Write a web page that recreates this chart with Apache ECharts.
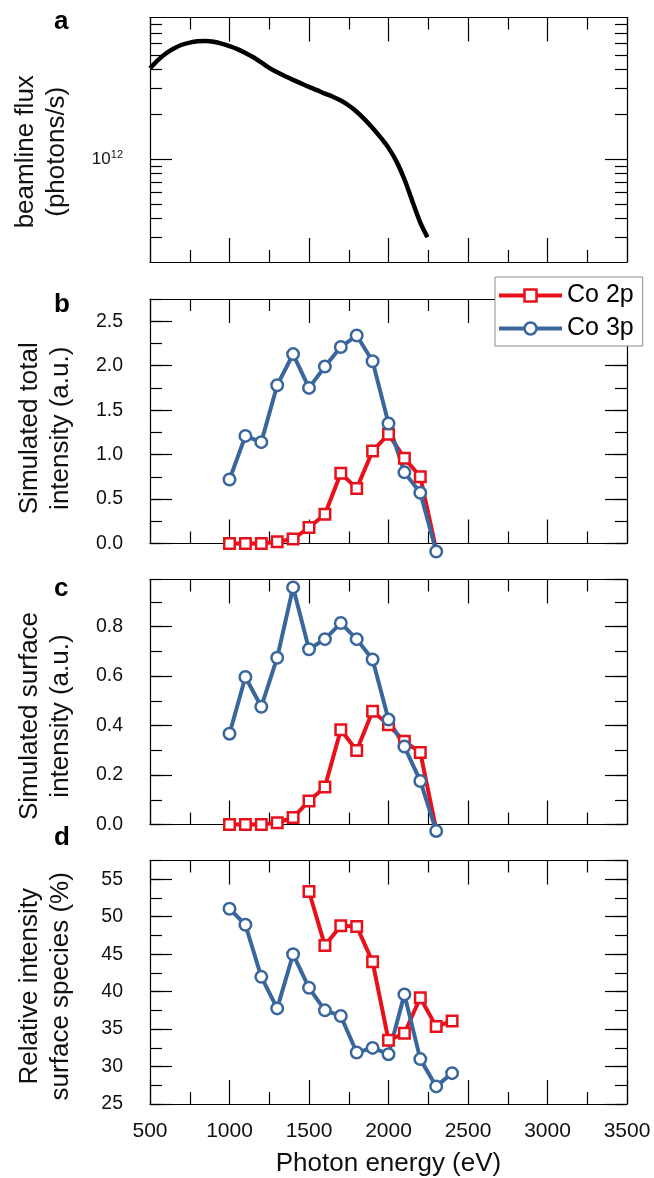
<!DOCTYPE html>
<html><head><meta charset="utf-8">
<script src="https://cdn.jsdelivr.net/npm/echarts@6/dist/echarts.min.js"></script>
<style>html,body{margin:0;padding:0;background:#fff}#c{width:654px;height:1178px}</style>
</head><body><div id="c"></div>
<script>
// ---------- data ----------
const fluxEnergy = [500,550,600,650,700,750,800,850,900,950,1000,1050,1100,1150,1200,1250,1300,1350,1400,1450,1500,1550,1600,1650,1700,1750,1800,1850,1900,1950,2000,2050,2100,2150,2200,2245];
const fluxValues = [4.07e12,4.62e12,5.11e12,5.52e12,5.85e12,6.05e12,6.17e12,6.19e12,6.12e12,5.96e12,5.73e12,5.47e12,5.16e12,4.82e12,4.45e12,4.09e12,3.82e12,3.60e12,3.40e12,3.22e12,3.05e12,2.90e12,2.75e12,2.62e12,2.47e12,2.29e12,2.08e12,1.85e12,1.62e12,1.40e12,1.19e12,9.66e11,7.33e11,5.22e11,3.75e11,2.99e11];
const fluxMajorTicks = [1e12];
const fluxMinorTicks = [3e11,4e11,5e11,6e11,7e11,8e11,9e11,2e12,3e12,4e12,5e12,6e12,7e12,8e12];

const simEnergy = [1000,1100,1200,1300,1400,1500,1600,1700,1800,1900,2000,2100,2200,2300];
const totalCo2p = [0.0,0.0,0.0,0.02,0.05,0.18,0.33,0.79,0.62,1.04,1.23,0.96,0.75,-0.07];
const totalCo3p = [0.72,1.21,1.14,1.78,2.13,1.75,1.99,2.21,2.34,2.05,1.35,0.80,0.57,-0.09];
const surfCo2p = [0.0,0.0,0.0,0.007,0.028,0.095,0.152,0.383,0.299,0.458,0.403,0.336,0.291,-0.02];
const surfCo3p = [0.367,0.596,0.476,0.674,0.958,0.708,0.749,0.814,0.749,0.667,0.424,0.315,0.176,-0.026];

const relEnergyCo3p = [1000,1100,1200,1300,1400,1500,1600,1700,1800,1900,2000,2100,2200,2300,2400];
const relCo3p = [51.06,48.93,41.97,37.76,44.99,40.51,37.5,36.75,31.87,32.49,31.65,39.63,30.99,27.35,29.12];
const relEnergyCo2p = [1500,1600,1700,1800,1900,2000,2100,2200,2300,2400];
const relCo2p = [53.36,46.14,48.8,48.7,43.97,33.51,34.44,39.18,35.33,36.08];

const xTickLabels = [500,1000,1500,2000,2500,3000,3500];
const seriesNames = ['Co 2p','Co 3p'];
const panelLetters = ['a','b','c','d'];
const yTitles = ['beamline flux\n(photons/s)','Simulated total\nintensity (a.u.)','Simulated surface\nintensity (a.u.)','Relative intensity\nsurface species (%)'];
const xTitle = 'Photon energy (eV)';

// ---------- style ----------
const FONT = '"Liberation Sans", Arial, sans-serif';
const RED = '#e8101a', BLUE = '#3a679b', INK = '#000';
const line = {color: INK, width: 1.2};
const grids = [
  {left:150, right:27, top:17.5, height:244.5},
  {left:150, right:27, top:299, height:244.5},
  {left:150, right:27, top:579.5, height:245},
  {left:150, right:27, top:860.5, height:244}
];
const letterTops = [9, 292, 576, 825];
const titleGaps = [78, 74, 74, 74];
const titleShift = [24, 14, 28, 8];

function xAx(gi, pos, showLabel) {
  return {
    gridIndex: gi, type: 'value', position: pos, min: xTickLabels[0], max: xTickLabels[xTickLabels.length-1], interval: 500,
    axisLine: {show: true, onZero: false, lineStyle: line},
    axisTick: {show: true, inside: true, length: 24, lineStyle: line},
    minorTick: {show: true, splitNumber: 2, length: 12, lineStyle: line},
    splitLine: {show: false}, minorSplitLine: {show: false},
    axisLabel: {show: showLabel, margin: 17, fontSize: 21, color: '#111', fontFamily: FONT, formatter: v => String(v)},
    name: showLabel ? xTitle : '', nameLocation: 'middle', nameGap: 47,
    nameTextStyle: {fontSize: 26, color: '#111', fontFamily: FONT}
  };
}
function yAx(gi, pos, o) {
  const isLabelAxis = pos === 'left' && o.major;
  const a = {
    gridIndex: gi, type: 'value', position: pos, min: o.min, max: o.max,
    axisLine: {show: o.major, onZero: false, lineStyle: line},
    axisTick: {show: true, inside: true, length: o.major ? 22 : 12, lineStyle: line},
    splitLine: {show: false},
    axisLabel: {show: isLabelAxis, margin: 27, fontSize: 19.5, color: '#111', fontFamily: FONT, showMaxLabel: false},
    name: isLabelAxis ? yTitles[gi] : '', nameLocation: 'middle', nameGap: titleGaps[gi],
    nameTextStyle: {fontSize: 26, lineHeight: 31, color: '#111', fontFamily: FONT, padding: [0, titleShift[gi], 0, 0]}
  };
  if (o.interval != null) a.interval = o.interval;
  if (o.tickValues) a.axisTick.customValues = o.tickValues;
  if (o.labelValues) a.axisLabel.customValues = o.labelValues;
  if (o.fmt) a.axisLabel.formatter = o.fmt;
  if (o.rich) a.axisLabel.rich = o.rich;
  return a;
}
function ySet(gi, base) {
  const maj = Object.assign({}, base, {major: true});
  const min = Object.assign({}, base, {major: false, interval: base.minorInterval, tickValues: base.minorTicks, labelValues: null, fmt: null, rich: null});
  return [yAx(gi,'left',maj), yAx(gi,'left',min), yAx(gi,'right',maj), yAx(gi,'right',min)];
}

const logMin = 11.31, logMax = 12.95;
const yAxes = [].concat(
  ySet(0, {min: logMin, max: logMax,
    tickValues: fluxMajorTicks.map(Math.log10), labelValues: fluxMajorTicks.map(Math.log10),
    minorTicks: fluxMinorTicks.map(Math.log10),
    fmt: () => '{b|10}{s|12}',
    rich: {b: {fontSize: 17, fontFamily: FONT, color: '#111', lineHeight: 20}, s: {fontSize: 11, fontFamily: FONT, color: '#111', verticalAlign: 'top'}}}),
  ySet(1, {min: 0, max: 2.75, interval: 0.5, minorInterval: 0.25, fmt: v => v.toFixed(1)}),
  ySet(2, {min: 0, max: 0.99, interval: 0.2, minorInterval: 0.1, fmt: v => v.toFixed(1)}),
  ySet(3, {min: 25, max: 57.5, interval: 5, minorInterval: 2.5, fmt: v => String(v)})
);
const xAxes = [];
for (let gi = 0; gi < 4; gi++) { xAxes.push(xAx(gi, 'bottom', gi === 3)); xAxes.push(xAx(gi, 'top', false)); }

function ptSeries(name, gi, xs, ys, isRed, hideLast) {
  const color = isRed ? RED : BLUE;
  return {
    type: 'line', name, xAxisIndex: 2*gi, yAxisIndex: 4*gi, clip: false,
    data: xs.map((x, i) => (hideLast && i === xs.length - 1) ? {value: [x, ys[i]], symbol: 'none'} : [x, ys[i]]),
    symbol: isRed ? 'rect' : 'circle', symbolSize: isRed ? 10.5 : 11.5, showAllSymbol: true,
    lineStyle: {color, width: 4}, itemStyle: {color: '#fff', borderColor: color, borderWidth: 2.5},
    emphasis: {disabled: true}
  };
}

const option = {
  animation: false,
  backgroundColor: '#fff',
  grid: grids,
  title: panelLetters.map((t, i) => ({text: t, left: 54, top: letterTops[i], padding: 0,
    textStyle: {fontSize: 26, fontWeight: 'bold', color: '#000', fontFamily: FONT}})),
  legend: {
    data: seriesNames, orient: 'vertical', left: 495, top: 277, selectedMode: false,
    itemWidth: 63, itemHeight: 15, itemGap: 8,
    backgroundColor: '#fff', borderColor: '#8a8a8a', borderWidth: 1, padding: [6, 9, 5, 2],
    lineStyle: {width: 4}, itemStyle: {borderWidth: 2.5},
    textStyle: {fontSize: 25, color: '#000', fontFamily: FONT}, z: 20
  },
  xAxis: xAxes,
  yAxis: yAxes,
  series: [
    {type: 'line', xAxisIndex: 0, yAxisIndex: 0, data: fluxEnergy.map((e, i) => [e, Math.log10(fluxValues[i])]),
     smooth: 0.3, showSymbol: false, lineStyle: {color: '#000', width: 4.5}, emphasis: {disabled: true}},
    ptSeries(seriesNames[0], 1, simEnergy, totalCo2p, true, true),
    ptSeries(seriesNames[1], 1, simEnergy, totalCo3p, false, false),
    ptSeries(seriesNames[0], 2, simEnergy, surfCo2p, true, true),
    ptSeries(seriesNames[1], 2, simEnergy, surfCo3p, false, false),
    ptSeries(seriesNames[0], 3, relEnergyCo2p, relCo2p, true, false),
    ptSeries(seriesNames[1], 3, relEnergyCo3p, relCo3p, false, false)
  ]
};
echarts.init(document.getElementById('c')).setOption(option);
</script></body></html>
